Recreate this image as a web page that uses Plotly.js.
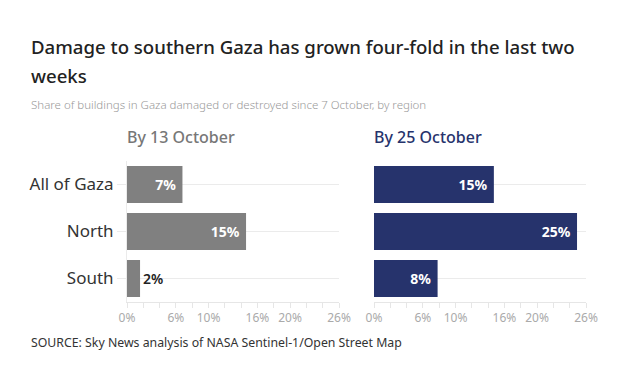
<!DOCTYPE html>
<html><head><meta charset="utf-8">
<script src="https://cdn.plot.ly/plotly-3.0.1.min.js"></script>
<style>html,body{margin:0;padding:0;background:#fff}#chart{width:625px;height:373px}</style>
</head><body><div id="chart"></div>
<script>
const categories = ["All of Gaza", "North", "South"];
const valuesOct13 = [6.8, 14.6, 1.6];
const labelsOct13 = ["7%", "15%", "2%"];
const valuesOct25 = [14.7, 24.9, 7.8];
const labelsOct25 = ["15%", "25%", "8%"];
const tickValues = [0, 2, 4, 6, 8, 10, 12, 14, 16, 18, 20, 22, 24, 26];
const tickLabels = ["0%", "", "", "6%", "", "10%", "", "", "16%", "", "20%", "", "", "26%"];
const panelTitles = ["By 13 October", "By 25 October"];
const titleLines = ["Damage to southern Gaza has grown four-fold in the last two", "weeks"];

const FONT = "Noto Sans, sans-serif";
const grey = "#808080", navy = "#26336c";

function trace(vals, labels, color, xa, ya) {
  return {
    type: "bar", orientation: "h", x: vals, y: categories,
    xaxis: xa, yaxis: ya, marker: {color: color},
    text: labels.map(t => t + "&nbsp;"), textposition: vals.map(v => v < 4 ? "outside" : "inside"),
    insidetextanchor: "end",
    textfont: {family: FONT, size: 14, weight: 700},
    insidetextfont: {color: "#fff", family: FONT, size: 14, weight: 700},
    outsidetextfont: {color: "#222", family: FONT, size: 14, weight: 600},
    cliponaxis: false, hoverinfo: "skip"
  };
}

const xBase = {
  range: [0, 26], tickvals: tickValues, ticktext: tickLabels,
  ticks: "outside", ticklen: 5, tickcolor: "#e6e6e6",
  showline: true, linecolor: "#e6e6e6", showgrid: false, zeroline: false,
  tickfont: {family: FONT, size: 12, color: "#aaa"}, fixedrange: true
};
const yBase = {
  autorange: "reversed", showgrid: true, gridcolor: "#ebebeb",
  zeroline: false, fixedrange: true
};

const H = 373, W = 625;
const yDom = [(H - 302) / H, (H - 161) / H];

const layout = {
  width: W, height: H, margin: {l: 0, r: 0, t: 0, b: 0},
  paper_bgcolor: "#fff", plot_bgcolor: "#fff", showlegend: false,
  bargap: 0.213,
  xaxis: Object.assign({}, xBase, {domain: [127 / W, 339 / W], anchor: "y"}),
  xaxis2: Object.assign({}, xBase, {domain: [374 / W, 586 / W], anchor: "y2"}),
  yaxis: Object.assign({}, yBase, {domain: yDom, anchor: "x",
    ticks: "outside", ticklen: 9, tickcolor: "#ebebeb",
    showline: true, linecolor: "#ebebeb",
    tickfont: {family: FONT, size: 17, color: "#333"}}),
  yaxis2: Object.assign({}, yBase, {domain: yDom, anchor: "x2", showticklabels: false,
    showline: false}),
  annotations: [
    {text: titleLines[0],
     xref: "paper", yref: "paper", x: 29 / W, y: 1 - 47 / H, xanchor: "left", yanchor: "middle",
     align: "left", showarrow: false,
     font: {family: FONT, size: 18.6, color: "#222", weight: 500}},
    {text: titleLines[1],
     xref: "paper", yref: "paper", x: 29 / W, y: 1 - 75 / H, xanchor: "left", yanchor: "middle",
     align: "left", showarrow: false,
     font: {family: FONT, size: 18.6, color: "#222", weight: 500}},
    {text: "Share of buildings in Gaza damaged or destroyed since 7 October, by region",
     xref: "paper", yref: "paper", x: 29 / W, y: 1 - 105 / H, xanchor: "left", yanchor: "middle",
     showarrow: false, font: {family: FONT, size: 11.5, color: "#999", weight: 300}},
    {text: panelTitles[0], xref: "paper", yref: "paper", x: 125 / W, y: 1 - 137 / H,
     xanchor: "left", yanchor: "middle", showarrow: false,
     font: {family: FONT, size: 16, color: "#777", weight: 500}},
    {text: panelTitles[1], xref: "paper", yref: "paper", x: 372 / W, y: 1 - 137 / H,
     xanchor: "left", yanchor: "middle", showarrow: false,
     font: {family: FONT, size: 16, color: navy, weight: 500}},
    {text: "SOURCE: Sky News analysis of NASA Sentinel-1/Open Street Map",
     xref: "paper", yref: "paper", x: 29 / W, y: 1 - 342 / H, xanchor: "left", yanchor: "middle",
     showarrow: false, font: {family: FONT, size: 12.3, color: "#333"}}
  ]
};

Plotly.newPlot("chart", [
  trace(valuesOct13, labelsOct13, grey, "x", "y"),
  trace(valuesOct25, labelsOct25, navy, "x2", "y2")
], layout, {displayModeBar: false, staticPlot: true});
</script></body></html>
